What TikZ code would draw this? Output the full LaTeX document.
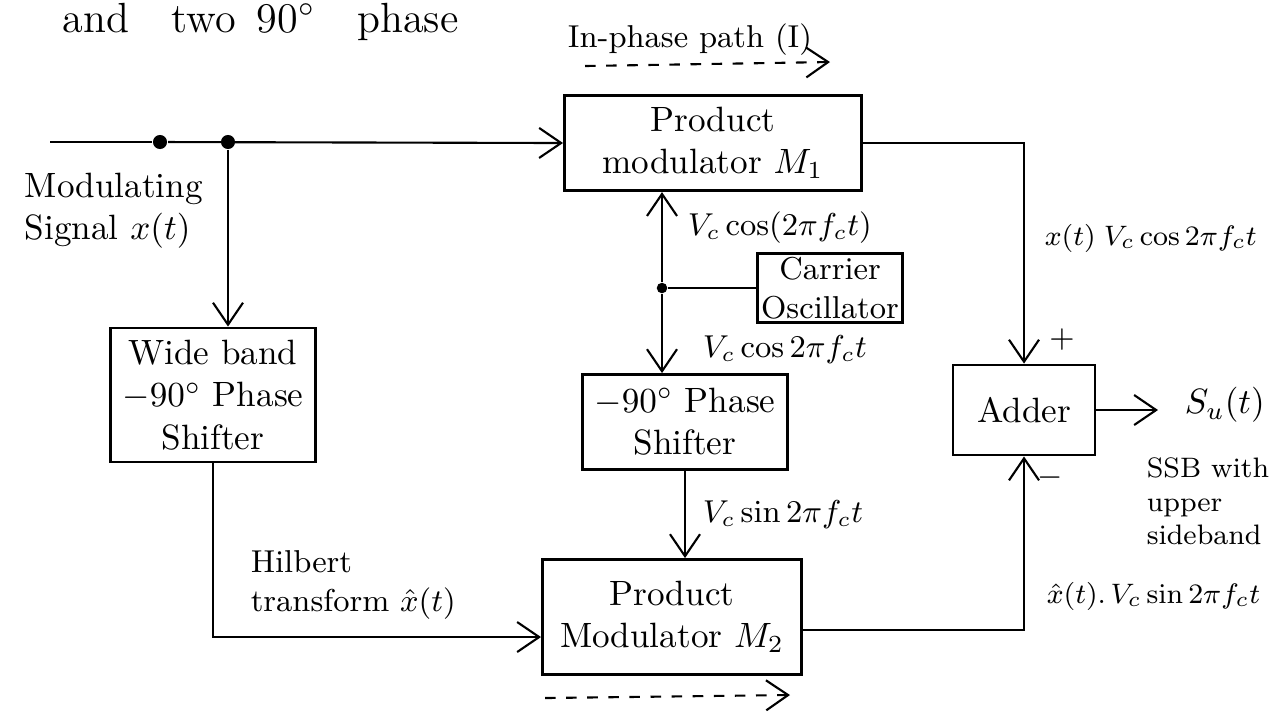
\documentclass[tikz,border=0pt]{standalone}
\usepackage{tikz}
\usetikzlibrary{arrows.meta,positioning}

\begin{document}
\begin{tikzpicture}[x=0.01cm, y=-0.01cm, semithick,
  box/.style={draw,thick,align=center,font=\normalsize},
  lbl/.style={font=\small},
  dot/.style={circle,fill,inner sep=0pt,minimum size=4pt},
  arrow/.style={-{Straight Barb[length=2.2mm,width=3mm]}}]
  \useasboundingbox (0,0) rectangle (1271,720);

  % blocks
  \node[box,minimum width=2.97cm,minimum height=0.93cm] (m1) at (713,143) {Product\\modulator $M_1$};
  \node[box,minimum width=1.97cm,minimum height=1.34cm] (wide) at (213,395) {Wide band\\$-90^\circ$ Phase\\Shifter};
  \node[box,minimum width=1.45cm,minimum height=0.67cm,font=\small,inner sep=1pt] (osc) at (830,288) {Carrier\\Oscillator};
  \node[box,minimum width=1.9cm,minimum height=0.95cm] (ps) at (685,422) {$-90^\circ$ Phase\\Shifter};
  \node[box,minimum width=2.59cm,minimum height=1.15cm] (m2) at (672,617) {Product\\Modulator $M_2$};
  \node[box,minimum width=1.42cm,minimum height=0.9cm] (adder) at (1024,410) {Adder};

  % junctions and free ends
  \coordinate (in) at (50,142);
  \node[dot] (d0) at (160,142) {};
  \node[dot] (j1) at (228,142) {};
  \node[dot,minimum size=3pt] (j2) at (662,288) {};
  \coordinate (out) at (1158,410);
  \coordinate (ia) at (585,66);
  \coordinate (ib) at (830,62);
  \coordinate (qa) at (545,698);
  \coordinate (qb) at (790,695);

  % connectors
  \draw (in) -- (d0);
  \draw[arrow] (d0) -- (m1.west);
  \draw[arrow] (j1) -- (j1 |- wide.north);
  \draw[arrow] (wide.south) |- ([yshift=-2mm]m2.west);
  \draw[arrow] (m1.east) -| (adder.north);
  \draw (osc.west) -- (j2);
  \draw[arrow] (j2) -- (j2 |- m1.south);
  \draw[arrow] (j2) -- (j2 |- ps.north);
  \draw[arrow] (ps.south) -- (ps.south |- m2.north);
  \draw[arrow] ([yshift=-1.3mm]m2.east) -| (adder.south);
  \draw[arrow] (adder.east) -- (out);
  \draw[arrow,dashed] (ia) -- (ib);
  \draw[arrow,dashed] (qa) -- (qb);

  % labels
  \node[lbl,anchor=base west] (top) at (50,32) {\large and\quad two\enspace 90$^\circ$\quad phase};
  \node[lbl,anchor=north west,align=left,font=\normalsize] (modsig) at (12,160) {Modulating\\Signal $x(t)$};
  \node[lbl] (ipath) at (690,40) {In-phase path (I)};
  \node[lbl,anchor=west] (vcos1) at (675,228) {$V_c\cos(2\pi f_c t)$};
  \node[lbl,anchor=west] (vcos2) at (690,350) {$V_c\cos 2\pi f_c t$};
  \node[lbl,anchor=west] (vsin) at (690,515) {$V_c\sin 2\pi f_c t$};
  \node[lbl,anchor=west,font=\footnotesize] (prodI) at (1032,238) {$x(t)\;V_c\cos 2\pi f_c t$};
  \node[lbl] (plus) at (1062,340) {$+$};
  \node[lbl] (minus) at (1050,478) {$-$};
  \node[lbl,anchor=west,font=\normalsize] (su) at (1172,405) {$S_u(t)$};
  \node[lbl,anchor=north west,align=left,font=\footnotesize] (ssb) at (1134,445) {SSB with\\upper\\sideband};
  \node[lbl,anchor=west,font=\footnotesize] (prodQ) at (1034,596) {$\hat{x}(t)$.\,$V_c\sin 2\pi f_c t$};
  \node[lbl,anchor=south west,align=left] (hilb) at (238,632) {Hilbert\\transform $\hat{x}(t)$};
\end{tikzpicture}
\end{document}
